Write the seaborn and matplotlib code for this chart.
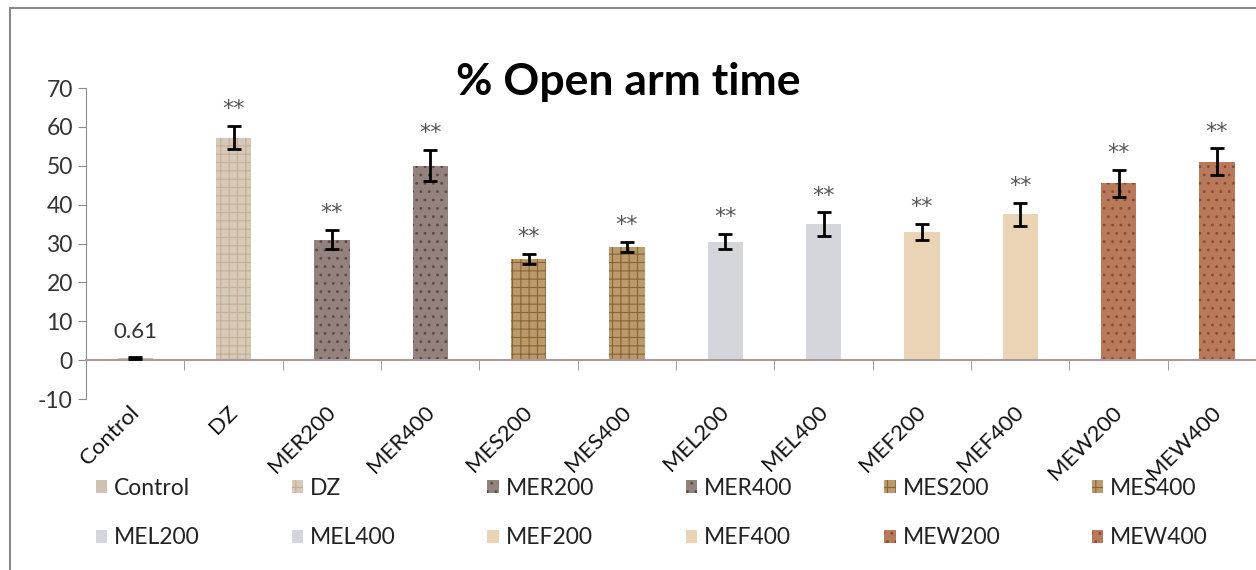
import numpy as np
import pandas as pd
import matplotlib
matplotlib.use("Agg")
import matplotlib.pyplot as plt
from matplotlib.patches import Rectangle
import seaborn as sns

# values
groups = ["Control", "DZ", "MER200", "MER400", "MES200", "MES400",
          "MEL200", "MEL400", "MEF200", "MEF400", "MEW200", "MEW400"]
open_arm_pct = [0.61, 57.2, 31.0, 50.0, 26.0, 29.2, 30.5, 35.0, 33.0, 37.5, 45.5, 51.0]
sem = [0.3, 3.0, 2.5, 4.0, 1.3, 1.3, 2.0, 3.0, 2.0, 3.0, 3.5, 3.5]
signif = ["", "**", "**", "**", "**", "**", "**", "**", "**", "**", "**", "**"]

colors = {"Control": "#d3c3ae", "DZ": "#dccab2",
          "MER200": "#978079", "MER400": "#978079",
          "MES200": "#c89c5e", "MES400": "#c89c5e",
          "MEL200": "#d3d6dc", "MEL400": "#d3d6dc",
          "MEF200": "#f3d6ac", "MEF400": "#f3d6ac",
          "MEW200": "#c8754a", "MEW400": "#c8754a"}
# rough stand-ins for the picture textures: (hatch, hatch colour)
textures = {"Control": ("", None), "DZ": ("++", "#c4ae92"),
            "MER200": ("..", "#5e4a44"), "MER400": ("..", "#5e4a44"),
            "MES200": ("++", "#8a6433"), "MES400": ("++", "#8a6433"),
            "MEL200": ("", None), "MEL400": ("", None),
            "MEF200": ("", None), "MEF400": ("", None),
            "MEW200": ("..", "#8c4a2a"), "MEW400": ("..", "#8c4a2a")}

df = pd.DataFrame({"group": groups, "pct": open_arm_pct, "sem": sem})

sns.set_style("white")
plt.rcParams["font.family"] = ["Lato", "DejaVu Sans"]
plt.rcParams["axes.unicode_minus"] = False
plt.rcParams["hatch.linewidth"] = 0.8

fig = plt.figure(figsize=(12.56, 5.70), dpi=100)
ax = fig.add_axes([0.0685, 0.30, 0.9395, 0.5456])

sns.barplot(data=df, x="group", y="pct", hue="group", palette=colors,
            order=groups, hue_order=groups, width=0.36, legend=False,
            errorbar=None, ax=ax)

for cont, g in zip(ax.containers, groups):
    hatch, hcol = textures[g]
    for p in cont:
        p.set_linewidth(0)
        if hatch:
            p.set_hatch(hatch)
            p.set_edgecolor(hcol)
        else:
            p.set_edgecolor(colors[g])

ax.errorbar(np.arange(len(groups)), df["pct"], yerr=df["sem"], fmt="none",
            ecolor="black", elinewidth=2, capsize=5, capthick=2, zorder=5)

for i, (v, e, s) in enumerate(zip(open_arm_pct, sem, signif)):
    if s:
        ax.text(i, v + e + 4.3, s, ha="center", va="center", fontsize=16,
                color="#555555", family="DejaVu Sans")
ax.text(0, open_arm_pct[0] + 6.6, "0.61", ha="center", va="center", fontsize=16, color="#333333")

ax.set_ylim(-10, 70)
ax.set_yticks(range(-10, 71, 10))
ax.set_xlim(-0.5, len(groups) - 0.5)
ax.set_xlabel("")
ax.set_ylabel("")

for side in ["top", "right"]:
    ax.spines[side].set_visible(False)
ax.spines["left"].set_color("#8c8c8c")
ax.spines["bottom"].set_position(("data", 0))
ax.spines["bottom"].set_color("#a89a98")
ax.spines["bottom"].set_linewidth(1.5)

ax.tick_params(axis="y", which="major", left=True, length=6, color="#8c8c8c",
               labelsize=16.5, labelcolor="#333333")
ax.set_xticks(np.arange(len(groups)))
ax.set_xticks(np.arange(len(groups)) + 0.5, minor=True)
ax.tick_params(axis="x", which="major", length=0, labelbottom=False)
ax.tick_params(axis="x", which="minor", bottom=True, length=7, color="#8c8c8c", direction="out")

# category labels sit below the plot area, Excel style
for i, g in enumerate(groups):
    ax.text(i + 0.08, -0.01, g, transform=ax.get_xaxis_transform(),
            rotation=45, ha="right", va="top", fontsize=16, color="#111111")

fig.text(0.5, 0.857, "% Open arm time", ha="center", va="center",
         fontsize=32, fontweight="bold", color="black")

# legend laid out in 2 rows x 6 columns (column-major order)
handles = [ax.containers[i][0] for i in range(len(groups))]
order = []
for c in range(6):
    order += [c, c + 6]
fig.legend([handles[k] for k in order], [groups[k] for k in order],
           ncol=6, loc="center left", bbox_to_anchor=(0.06, 0.1),
           frameon=False, fontsize=16.5, handlelength=0.5, handleheight=0.5,
           handletextpad=0.3, columnspacing=4.0, labelspacing=1.24,
           labelcolor="#222222")

fig.patches.append(Rectangle((10 / 1256, -0.1), 1.5, 1.1 - 8 / 570,
                             transform=fig.transFigure, fill=False,
                             edgecolor="#8a8a8a", linewidth=1.5))

fig.savefig("out.png", dpi=100)
